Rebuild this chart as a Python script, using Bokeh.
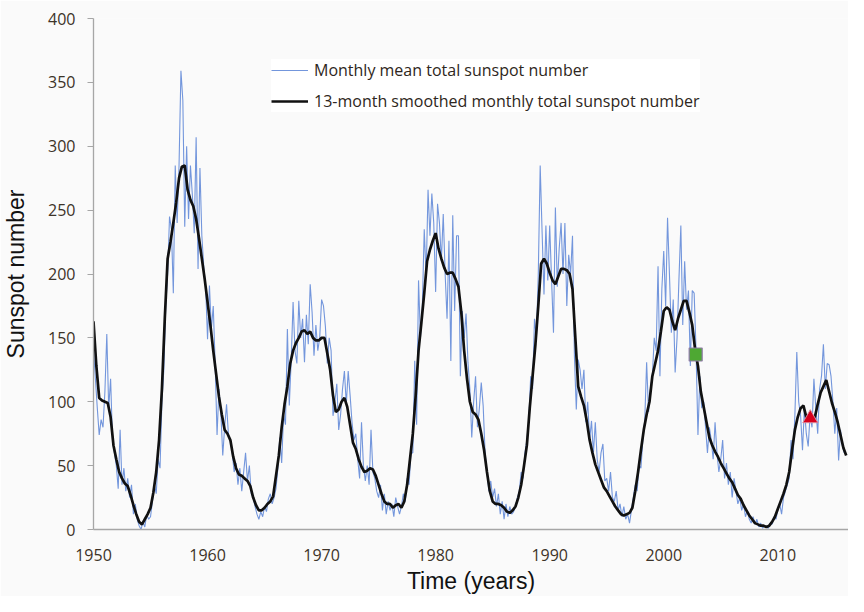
from bokeh.plotting import figure
from bokeh.models import Range1d, FixedTicker, Legend, LegendItem
from bokeh.embed import file_html
from bokeh.resources import INLINE

# ---- data ----
# Monthly mean total sunspot number, sampled every two months (6 values per year)
monthly_1950s = [140, 118, 95, 74, 86, 80,
                 108, 153, 95, 118, 70, 60,
                 50, 32, 78, 35, 48, 30,
                 40, 25, 35, 12, 20, 8,
                 3, 0, 6, 2, 12, 8,
                 10, 22, 35, 28, 55, 48,
                 100, 125, 175, 200, 245, 235,
                 185, 285, 240, 285, 359, 336,
                 237, 300, 243, 285, 262, 232,
                 307, 204, 283, 230, 206, 190]
monthly_1960s = [149, 191, 157, 175, 130, 74,
                 110, 92, 58, 80, 98, 74,
                 70, 60, 45, 52, 35, 48,
                 30, 45, 60, 38, 50, 28,
                 25, 18, 12, 8, 14, 10,
                 18, 14, 24, 28, 20, 25,
                 32, 48, 72, 52, 90, 82,
                 157, 97, 132, 178, 140, 130,
                 179, 150, 165, 131, 168, 145,
                 192, 170, 136, 160, 140, 150]
monthly_1970s = [180, 175, 159, 130, 150, 140,
                 89, 100, 114, 78, 90, 110,
                 124, 98, 124, 105, 84, 70,
                 75, 55, 40, 84, 50, 38,
                 50, 35, 78, 45, 40, 30,
                 25, 35, 15, 28, 12, 22,
                 15, 20, 10, 25, 18, 12,
                 18, 28, 22, 40, 35, 60,
                 60, 132, 82, 195, 150, 175,
                 235, 198, 266, 230, 263, 240]
monthly_1980s = [186, 255, 240, 210, 247, 200,
                 165, 226, 132, 246, 171, 230,
                 230, 120, 171, 150, 169, 131,
                 110, 72, 100, 120, 80, 95,
                 115, 97, 60, 45, 30, 38,
                 25, 32, 18, 28, 12, 22,
                 8, 20, 10, 18, 12, 14,
                 18, 25, 30, 45, 40, 60,
                 70, 85, 120, 110, 165, 150,
                 200, 285, 233, 184, 238, 195]
monthly_1990s = [238, 195, 154, 252, 190, 220,
                 240, 200, 240, 175, 215, 200,
                 230, 136, 94, 133, 125, 110,
                 125, 84, 100, 70, 85, 60,
                 84, 55, 45, 60, 67, 38,
                 40, 30, 45, 25, 22, 30,
                 15, 20, 10, 18, 8, 12,
                 5, 15, 25, 35, 30, 50,
                 48, 70, 85, 131, 92, 110,
                 120, 150, 140, 206, 120, 188]
monthly_2000s = [218, 175, 244, 200, 154, 180,
                 123, 150, 196, 238, 160, 210,
                 172, 187, 128, 187, 185, 140,
                 74, 120, 95, 100, 80, 60,
                 80, 70, 55, 84, 60, 45,
                 55, 70, 40, 52, 35, 45,
                 25, 40, 30, 20, 25, 15,
                 20, 10, 15, 8, 5, 10,
                 4, 8, 2, 5, 1, 3,
                 2, 1, 5, 4, 10, 8]
monthly_2010s = [15, 20, 12, 25, 30, 35,
                 40, 70, 55, 90, 139, 100,
                 89, 62, 95, 75, 65, 90,
                 80, 118, 95, 75, 110, 120,
                 145, 110, 130, 129, 120, 100,
                 75, 95, 54, 78, 65, 60]

# 13-month smoothed monthly total sunspot number, quarterly samples (4 per year)
smoothed_1950s = [163, 128, 103, 101, 100, 99, 88, 66, 55, 45, 40, 36,
                  34, 27, 19, 12, 6, 4, 8, 12, 17, 29, 45, 70,
                  110, 165, 212, 225, 240, 256, 275, 284, 285, 266, 258, 253,
                  243, 228, 212, 196]
smoothed_1960s = [178, 160, 140, 122, 104, 90, 78, 75, 70, 57, 48, 43,
                  42, 40, 38, 34, 25, 19, 15, 15, 17, 20, 22, 26,
                  42, 58, 80, 98, 112, 130, 140, 146, 150, 155, 156, 153,
                  155, 150, 148, 148]
smoothed_1970s = [150, 150, 138, 125, 105, 92, 94, 100, 103, 96, 82, 68,
                  63, 55, 49, 45, 46, 48, 47, 42, 35, 28, 22, 20,
                  20, 17, 19, 20, 17, 22, 35, 55, 75, 105, 140, 162,
                  185, 210, 219, 226]
smoothed_1980s = [232, 220, 212, 205, 200, 201, 201, 196, 190, 170, 140, 118,
                  100, 92, 90, 86, 75, 62, 45, 30, 22, 20, 20, 19,
                  17, 14, 13, 15, 18, 25, 35, 50, 66, 95, 120, 145,
                  175, 208, 212, 208]
smoothed_1990s = [201, 195, 192, 198, 204, 204, 203, 200, 188, 150, 112, 104,
                  97, 85, 70, 60, 51, 45, 39, 33, 30, 26, 22, 18,
                  15, 12, 11, 12, 13, 17, 30, 45, 62, 78, 90, 100,
                  120, 130, 140, 155]
smoothed_2000s = [171, 174, 172, 163, 156, 165, 172, 179, 179, 170, 160, 141,
                  128, 108, 96, 84, 72, 66, 61, 57, 52, 48, 44, 40,
                  37, 32, 27, 24, 19, 15, 11, 8, 5, 4, 3, 3,
                  2, 3, 6, 10]
smoothed_2010s = [16, 22, 28, 35, 45, 62, 78, 88, 95, 97, 88, 86,
                  87, 88, 98, 107, 112, 117, 108, 99, 92, 84, 74, 64,
                  58]

# highlighted points
square_x, square_y = [2002.8], [137]
triangle_x, triangle_y = [2012.85], [87]

x_ticks = [1950, 1960, 1970, 1980, 1990, 2000, 2010]
y_ticks = [0, 50, 100, 150, 200, 250, 300, 350, 400]

monthly = (monthly_1950s + monthly_1960s + monthly_1970s + monthly_1980s
           + monthly_1990s + monthly_2000s + monthly_2010s)
smoothed = (smoothed_1950s + smoothed_1960s + smoothed_1970s + smoothed_1980s
            + smoothed_1990s + smoothed_2000s + smoothed_2010s)
monthly_t = [1950 + i / 6 for i in range(len(monthly))]
smoothed_t = [1950 + i / 4 for i in range(len(smoothed))]

# ---- figure ----
p = figure(width=848, height=596, output_backend="svg", toolbar_location=None,
           x_range=Range1d(1950, 2016.2), y_range=Range1d(0, 400),
           min_border_left=90, min_border_right=0, min_border_top=18, min_border_bottom=67)
p.background_fill_color = "#fafafa"
p.border_fill_color = "#fafafa"
p.outline_line_color = None
p.xgrid.visible = False
p.ygrid.visible = False

r1 = p.line(monthly_t, monthly, line_color="#7396dc", line_width=1.1)
r2 = p.line(smoothed_t, smoothed, line_color="#111111", line_width=2.7)
p.scatter(square_x, square_y, marker="square", size=13, fill_color="#4ea833",
          line_color="#8f7aa8", line_width=1.2)
p.scatter(triangle_x, triangle_y, marker="triangle", size=15, fill_color="#d8001c",
          line_color="#d9889a", line_width=1)

tick_font = "Open Sans"
for ax in (p.xaxis[0], p.yaxis[0]):
    ax.axis_line_color = "#a6a6a6"
    ax.axis_line_width = 1.3
    ax.major_tick_line_color = "#a6a6a6"
    ax.minor_tick_line_color = None
    ax.major_label_text_font = tick_font
    ax.major_label_text_font_size = "16px"
    ax.major_label_text_color = "#3d3328"
    ax.axis_label_text_font = "Liberation Sans"
    ax.axis_label_text_font_style = "normal"
    ax.axis_label_text_font_size = "23px"
    ax.axis_label_text_color = "#111111"

p.xaxis.ticker = FixedTicker(ticks=x_ticks)
p.yaxis.ticker = FixedTicker(ticks=y_ticks)
p.xaxis.major_tick_out = 0
p.xaxis.major_tick_in = 0
p.xaxis.major_label_standoff = 19
p.yaxis.major_tick_out = 6
p.yaxis.major_tick_in = 0
p.yaxis.major_label_standoff = 12
p.xaxis.axis_label = "Time (years)"
p.yaxis.axis_label = "Sunspot number"
p.xaxis.axis_label_standoff = 4
p.yaxis.axis_label_standoff = 16

legend = Legend(items=[LegendItem(label="Monthly mean total sunspot number", renderers=[r1]),
                       LegendItem(label="13-month smoothed monthly total sunspot number", renderers=[r2])],
                location=(178, 417))
legend.background_fill_color = "white"
legend.background_fill_alpha = 1
legend.border_line_color = None
legend.label_text_font = tick_font
legend.label_text_font_size = "16px"
legend.label_text_color = "#2e2620"
legend.glyph_width = 37
legend.glyph_height = 22
legend.label_height = 22
legend.label_standoff = 6
legend.spacing = 9
legend.padding = 6
legend.margin = 0
p.add_layout(legend, "center")

open("out.html", "w").write(file_html(p, INLINE))
